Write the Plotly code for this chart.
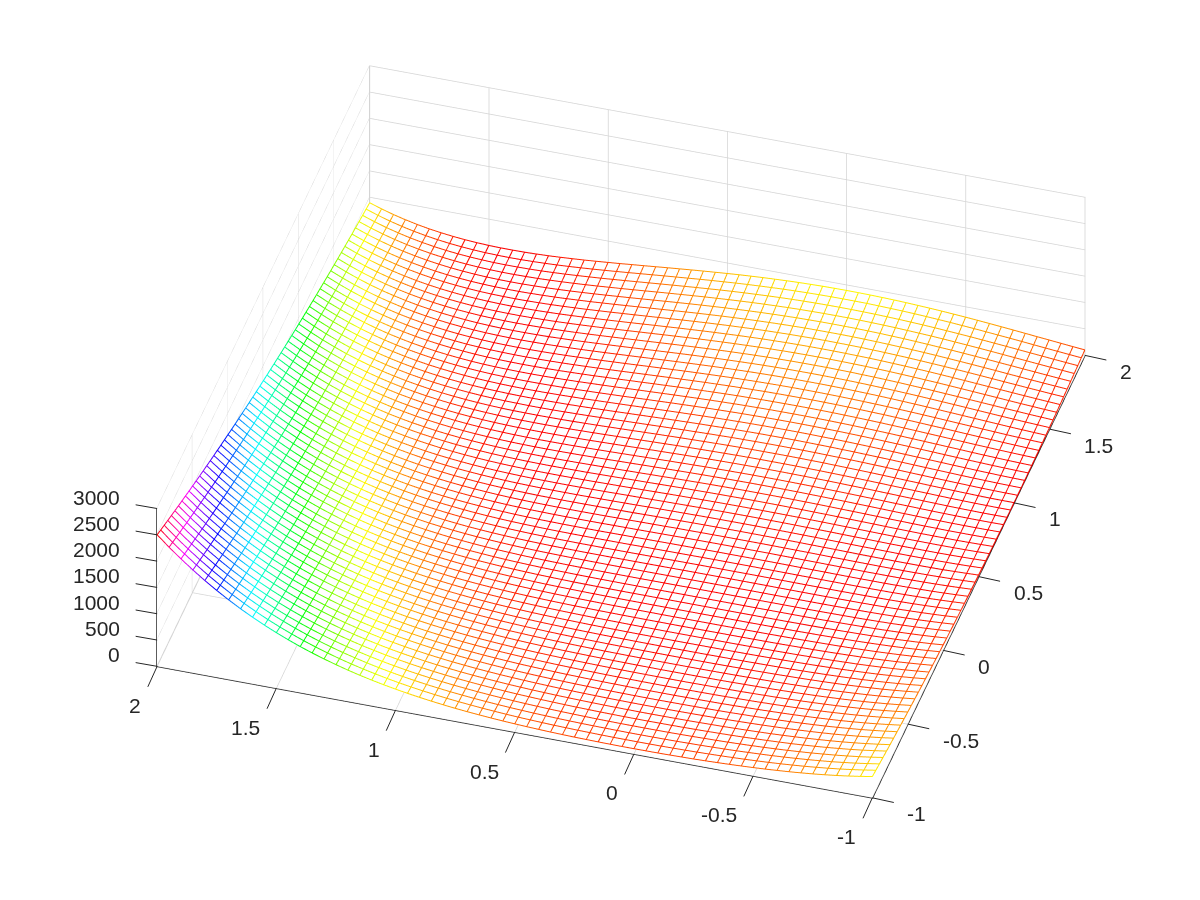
import plotly.graph_objects as go

x_values = [-1, -0.95, -0.9, -0.85, -0.8, -0.75, -0.7, -0.65, -0.6, -0.55, -0.5, -0.45, -0.4, -0.35, -0.3, -0.25, -0.2, -0.15, -0.1, -0.05,
            0, 0.05, 0.1, 0.15, 0.2, 0.25, 0.3, 0.35, 0.4, 0.45, 0.5, 0.55, 0.6, 0.65, 0.7, 0.75, 0.8, 0.85, 0.9, 0.95,
            1, 1.05, 1.1, 1.15, 1.2, 1.25, 1.3, 1.35, 1.4, 1.45, 1.5, 1.55, 1.6, 1.65, 1.7, 1.75, 1.8, 1.85, 1.9, 1.95, 2]
y_values = list(x_values)
# z_rows[i][j] is the height at x_values[i], y_values[j]
z_rows = [
[404,384,365,346,328,310,293,276,260,244,229,214,200,186,173,160,148,136,125,114,
 104,94,85,76,68,60,53,46,40,34,29,24,20,16,13,10,8,6,5,4,
 4,4,5,6,8,10,13,16,20,24,29,34,40,46,53,60,68,76,85,94,104],
[366,347,329,311,294,277,261,245,230,215,201,187,173,161,148,137,125,115,104,95,
 85,76,68,60,53,46,40,34,29,24,20,16,13,10,8,6,5,4,4,4,
 5,6,8,10,13,16,20,24,29,34,40,46,52,60,67,76,84,94,103,114,124],
[331,313,296,279,263,247,232,217,202,189,175,162,150,138,127,116,106,96,86,78,
 69,61,54,47,41,35,30,25,20,17,13,10,8,6,5,4,4,4,4,6,
 7,9,12,15,19,23,28,33,38,45,51,58,66,74,83,92,102,112,122,134,145],
[300,283,267,251,235,220,206,192,178,165,153,141,129,118,108,98,89,80,71,63,
 56,49,42,36,31,26,21,17,14,11,8,6,5,4,3,4,4,5,7,9,
 11,14,18,22,26,31,37,43,49,56,64,72,80,89,99,109,120,131,142,154,167],
[272,256,240,225,211,196,183,170,157,145,133,122,111,101,92,82,74,66,58,51,
 44,38,32,27,23,18,15,12,9,7,5,4,3,3,4,4,6,8,10,13,
 16,20,24,29,35,40,47,54,61,69,77,86,95,105,116,126,138,150,162,175,188],
[247,232,217,203,189,175,162,150,138,127,116,106,96,86,77,69,61,54,47,41,
 35,29,24,20,16,13,10,8,6,4,3,3,3,4,5,7,9,11,14,18,
 22,27,32,38,44,50,57,65,73,82,91,101,111,121,132,144,156,169,182,196,210],
[225,210,196,182,169,157,144,133,122,111,101,91,82,73,65,58,50,44,38,32,
 27,22,18,14,11,9,6,5,4,3,3,3,4,5,7,10,12,16,20,24,
 29,34,40,46,53,61,68,77,86,95,105,115,126,137,149,162,174,188,202,216,231],
[205,191,178,165,152,140,129,118,107,97,88,79,70,62,55,48,42,36,30,25,
 21,17,13,10,8,6,4,3,3,3,3,4,6,8,10,13,17,21,26,31,
 36,42,49,56,63,71,80,89,98,108,119,130,141,153,166,179,193,207,221,236,252],
[188,174,161,149,137,126,115,105,95,85,77,68,60,53,46,40,34,29,24,19,
 16,12,9,7,5,4,3,3,3,3,5,6,8,11,14,18,22,27,32,37,
 44,50,57,65,73,82,91,101,111,121,133,144,156,169,182,196,210,225,240,255,272],
[172,159,147,135,124,113,103,93,84,75,67,59,52,45,39,33,28,23,19,15,
 12,9,7,5,4,3,2,3,3,5,6,9,11,15,18,22,27,32,38,44,
 51,58,66,74,83,92,102,112,123,134,146,158,171,184,198,212,227,242,258,274,291],
[159,146,135,123,113,102,93,83,75,66,59,51,45,38,33,27,23,18,15,11,
 9,6,5,3,3,2,3,3,5,6,9,11,15,18,23,27,33,38,45,51,
 59,66,75,83,93,102,113,123,135,146,159,171,185,198,213,227,243,258,275,291,309],
[147,135,124,113,103,93,84,75,67,59,51,45,38,33,27,23,18,15,11,9,
 6,4,3,2,2,2,3,4,6,8,11,14,18,22,27,32,38,44,51,58,
 66,74,83,92,102,112,123,134,146,158,171,184,197,212,226,242,257,274,290,308,325],
[137,125,114,104,94,85,76,68,60,52,46,39,33,28,23,19,15,12,9,6,
 5,3,2,2,2,3,4,6,8,10,14,17,21,26,31,37,43,50,57,64,
 73,81,90,100,110,121,132,144,156,168,182,195,209,224,239,255,271,288,305,322,341],
[128,117,106,96,87,78,70,62,54,47,41,35,29,24,20,16,12,9,7,5,
 3,2,2,2,2,3,5,7,10,13,16,20,25,30,35,41,48,55,62,70,
 79,88,97,107,118,129,141,153,165,178,192,206,220,235,251,267,283,300,318,336,354],
[120,110,100,90,81,72,64,56,49,43,36,31,26,21,17,13,10,7,5,4,
 2,2,2,2,3,4,6,8,11,15,18,23,28,33,39,45,52,59,67,76,
 84,94,104,114,125,136,148,160,173,187,200,215,230,245,261,277,294,311,329,348,366],
[114,104,94,85,76,68,60,52,45,39,33,28,23,19,15,11,8,6,4,3,
 2,2,2,2,3,5,7,10,13,17,21,25,30,36,42,49,56,64,72,80,
 89,99,109,120,131,143,155,167,180,194,208,223,238,254,270,286,303,321,339,358,377],
[110,99,90,81,72,64,56,49,42,36,31,25,21,17,13,10,7,5,3,2,
 2,1,2,3,4,6,8,11,14,18,23,27,33,39,45,52,59,67,75,84,
 94,103,114,125,136,148,160,173,186,200,215,229,245,261,277,294,311,329,347,366,386],
[106,96,86,77,69,61,54,47,40,34,29,24,19,15,12,9,6,4,3,2,
 1,1,2,3,5,7,9,12,16,20,24,29,35,41,47,54,62,70,78,87,
 97,107,117,128,140,152,165,178,191,205,220,235,250,266,283,300,317,335,354,373,392],
[103,93,84,75,67,59,52,45,38,33,27,22,18,14,11,8,6,4,2,2,
 1,1,2,3,5,7,10,13,16,21,25,30,36,42,49,56,64,72,80,90,
 99,109,120,131,143,155,168,181,194,209,223,238,254,270,287,304,322,340,358,378,397],
[102,92,83,74,66,58,50,44,37,32,26,22,17,14,10,8,5,3,2,1,
 1,1,2,3,5,7,10,13,17,21,26,31,37,43,50,57,65,73,82,91,
 101,111,122,133,145,157,170,183,196,211,225,241,256,272,289,307,324,343,361,380,400],
[101,91,82,73,65,57,50,43,37,31,26,21,17,13,10,7,5,3,2,1,
 1,1,2,3,5,7,10,13,17,21,26,31,37,43,50,57,65,73,82,91,
 101,111,122,133,145,157,170,183,197,211,226,241,257,273,290,307,325,343,362,381,401],
[101,92,82,74,65,57,50,43,37,31,26,21,17,13,10,7,5,3,2,1,
 1,1,2,3,5,7,10,13,17,21,26,31,37,43,50,57,65,73,82,91,
 100,111,121,133,144,156,169,182,196,210,225,240,256,272,289,306,324,342,361,380,400],
[103,93,84,75,66,59,51,44,38,32,27,22,18,14,10,8,5,3,2,1,
 1,1,2,3,4,7,9,12,16,20,25,30,36,42,48,56,63,71,80,89,
 99,109,120,131,142,155,167,180,194,208,223,238,254,270,286,304,321,339,358,377,397],
[105,95,86,77,68,60,53,46,39,34,28,23,19,15,11,8,6,4,2,1,
 1,1,1,2,4,6,8,11,15,19,24,29,34,40,47,54,61,69,78,87,
 96,106,117,128,139,151,164,177,190,205,219,234,250,266,282,299,317,335,353,372,392],
[109,99,89,80,71,63,55,48,42,35,30,25,20,16,12,9,6,4,3,1,
 1,1,1,2,3,5,7,10,14,17,22,27,32,38,44,51,58,66,75,83,
 93,103,113,124,135,147,159,172,186,199,214,229,244,260,276,293,310,328,347,365,385],
[113,103,93,84,75,67,59,51,44,38,32,27,22,18,14,10,7,5,3,2,
 1,1,1,1,2,4,6,9,12,16,20,24,29,35,41,48,55,63,71,79,
 88,98,108,119,130,142,154,166,179,193,207,222,237,253,269,285,302,320,338,357,376],
[119,109,98,89,80,71,63,55,48,41,35,30,24,20,16,12,9,6,4,2,
 1,1,0,1,2,3,5,7,10,13,17,22,26,32,38,44,51,58,66,74,
 83,93,102,113,124,135,147,159,172,185,199,214,228,244,260,276,293,310,328,346,365],
[126,115,105,95,86,77,68,60,53,46,39,33,28,23,18,14,11,8,5,3,
 2,1,0,1,1,2,4,6,8,11,15,19,23,28,34,40,46,53,61,69,
 77,86,96,106,117,128,139,151,164,177,190,204,219,234,249,265,282,299,316,334,353],
[135,124,113,102,93,83,74,66,58,51,44,38,32,26,22,17,13,10,7,5,
 3,2,1,0,1,1,2,4,6,9,12,16,20,24,30,35,41,48,55,63,
 71,80,89,98,109,119,130,142,154,167,180,194,208,222,238,253,269,286,303,321,339],
[145,133,122,111,101,91,82,73,65,57,50,43,37,31,26,21,17,13,10,7,
 4,3,1,1,0,1,1,3,4,6,9,12,16,20,25,30,36,42,49,56,
 64,72,81,90,100,110,121,132,144,156,169,182,196,210,225,240,256,272,289,306,324],
[157,144,133,121,111,100,91,81,73,64,57,49,43,36,31,25,21,16,13,9,
 7,4,3,1,1,0,1,1,3,4,7,9,13,16,21,25,31,36,43,49,
 57,64,73,81,91,100,111,121,133,144,157,169,183,196,211,225,241,256,273,289,307],
[170,157,145,133,122,111,101,91,82,73,65,57,50,43,37,31,26,21,16,13,
 9,7,4,3,1,1,0,0,1,2,4,6,9,12,16,20,25,30,36,42,
 49,56,64,72,81,90,100,110,121,132,144,156,169,182,196,210,225,240,255,272,288],
[185,172,159,147,135,123,113,102,92,83,74,66,58,51,44,37,32,26,21,17,
 13,10,7,5,3,1,1,0,0,1,2,4,6,9,12,15,20,24,29,35,
 41,48,55,63,71,79,89,98,108,119,130,142,154,167,180,193,208,222,237,253,269],
[203,189,175,162,150,138,126,115,105,95,85,76,68,60,52,45,39,33,27,22,
 18,14,11,8,5,3,2,1,0,0,1,2,3,5,8,11,14,18,23,28,
 34,40,46,53,61,69,77,86,96,106,116,127,139,151,163,176,190,204,218,233,249],
[222,208,193,180,167,154,142,130,119,108,98,88,79,71,62,55,48,41,35,29,
 24,19,15,12,8,6,4,2,1,0,0,0,1,3,4,7,10,13,17,21,
 26,31,37,44,50,58,66,74,83,92,102,112,123,135,146,159,172,185,199,213,228],
[244,229,214,200,186,172,159,147,135,124,113,103,93,83,74,66,58,51,44,38,
 32,26,21,17,13,10,7,5,3,1,0,0,0,1,2,4,6,8,11,15,
 19,24,29,35,41,47,54,62,70,79,88,98,108,118,129,141,153,166,179,193,207],
[269,253,237,222,207,193,180,166,154,142,130,119,108,98,88,79,71,62,55,48,
 41,35,29,24,19,15,12,8,6,4,2,1,0,0,0,1,3,4,7,10,
 13,17,21,26,31,37,44,50,58,66,74,83,92,102,112,123,135,146,159,172,185],
[297,280,263,247,232,217,202,188,175,162,150,138,126,115,105,95,85,76,68,60,
 52,45,39,33,27,22,18,14,10,7,5,3,2,1,0,0,1,2,3,5,
 8,11,14,18,23,28,33,39,46,53,61,69,77,86,96,106,116,127,139,151,163],
[328,310,292,276,259,243,228,213,199,185,172,159,146,135,123,112,102,92,83,74,
 66,58,50,44,37,31,26,21,17,13,10,7,4,3,1,0,0,0,1,2,
 4,6,8,12,15,19,24,29,35,41,48,55,62,71,79,88,98,108,119,130,142],
[362,343,325,307,290,273,257,241,226,211,197,183,170,157,145,133,122,111,101,91,
 81,73,64,57,49,43,36,31,25,20,16,12,9,6,4,2,1,0,0,0,
 1,2,4,6,9,12,16,20,25,30,36,42,49,56,64,72,81,90,100,110,120],
[400,380,361,342,324,306,289,272,256,240,225,210,196,182,169,156,144,132,121,110,
 100,90,81,72,64,56,49,42,36,30,25,20,16,12,9,6,4,2,1,0,
 0,0,1,2,4,6,9,12,16,20,25,30,36,42,49,56,64,72,81,90,100],
[442,421,401,381,362,343,325,307,290,273,257,241,226,211,197,183,170,157,145,133,
 122,111,101,91,81,73,64,57,49,43,36,31,25,20,16,12,9,6,4,2,
 1,0,0,0,1,2,4,6,9,12,16,20,25,30,36,42,49,56,64,72,81],
[488,467,445,424,404,384,365,346,328,310,292,276,259,243,228,213,199,185,172,159,
 146,135,123,112,102,92,83,74,66,58,50,44,37,31,26,21,17,13,10,7,
 4,3,1,0,0,0,1,2,4,6,8,12,15,19,24,29,35,41,48,55,62],
[539,516,494,472,451,430,409,389,370,351,332,314,297,280,263,247,232,217,202,188,
 175,162,150,138,126,115,105,95,85,76,68,60,52,45,39,33,27,22,18,14,
 10,7,5,3,2,1,0,0,1,2,3,5,8,11,14,18,23,28,33,39,46],
[595,571,548,524,502,480,458,437,416,396,376,357,339,320,303,286,269,253,237,222,
 207,193,180,166,154,142,130,119,108,98,88,79,71,62,55,48,41,35,29,24,
 19,15,12,8,6,4,2,1,0,0,0,1,3,4,7,10,13,17,21,26,31],
[657,631,606,582,558,535,512,490,468,446,425,405,385,366,347,329,311,293,276,260,
 244,229,214,200,186,172,159,147,135,124,113,103,93,83,74,66,58,51,44,38,
 32,26,21,17,13,10,7,5,3,1,0,0,0,1,2,4,6,8,11,15,19],
[724,697,671,645,620,596,571,548,525,502,480,458,437,416,396,377,357,339,320,303,
 286,269,253,237,222,207,193,180,166,154,142,130,119,108,98,88,79,71,62,55,
 48,41,35,29,24,19,15,12,8,6,4,2,1,0,0,0,1,3,4,7,10],
[797,769,741,714,688,662,636,611,587,563,540,517,494,472,451,430,409,389,370,351,
 332,314,297,280,263,247,232,217,203,189,175,162,150,138,126,115,105,95,85,76,
 68,60,52,45,39,33,27,22,18,14,11,8,5,3,2,1,0,0,1,2,3],
[876,847,818,790,762,735,708,681,656,630,605,581,557,534,511,489,467,445,425,404,
 384,365,346,328,310,293,276,259,244,228,213,199,185,172,159,147,135,123,113,102,
 92,83,74,66,58,51,44,37,32,26,21,17,13,10,7,5,3,1,1,0,0],
[963,932,902,872,843,814,786,758,731,704,678,652,627,602,577,554,530,508,485,463,
 442,422,401,381,362,343,325,307,290,273,257,241,226,211,197,183,170,157,145,133,
 122,111,101,91,82,73,65,57,50,43,37,31,25,21,16,13,9,7,4,3,1],
[1057,1024,993,961,931,900,871,841,813,784,757,729,703,676,651,625,601,576,553,529,
 507,484,463,441,421,400,381,361,343,324,307,289,273,256,241,225,211,196,183,169,
 157,144,133,121,111,100,91,81,73,64,57,49,43,36,31,25,21,16,13,9,7],
[1158,1124,1091,1058,1026,994,963,932,902,872,843,814,786,758,731,704,678,652,627,602,
 578,554,531,508,485,464,442,422,401,382,362,344,325,307,290,273,257,241,226,211,
 197,183,170,157,145,133,122,111,101,91,82,73,65,57,50,43,37,31,26,21,17],
[1268,1232,1198,1163,1129,1096,1063,1031,999,968,937,906,877,847,818,790,762,735,708,682,
 656,630,606,581,557,534,511,489,467,446,425,404,385,365,346,328,310,293,276,260,
 244,228,214,199,185,172,159,147,135,124,113,102,93,83,74,66,58,51,44,38,32],
[1386,1349,1313,1277,1241,1206,1172,1138,1104,1071,1039,1007,975,944,914,884,855,826,797,769,
 742,715,688,662,637,612,587,563,540,517,494,472,451,430,409,390,370,351,333,315,
 297,280,264,248,232,217,203,189,175,162,150,138,126,115,105,95,86,77,68,60,53],
[1514,1475,1437,1399,1362,1325,1289,1254,1218,1184,1150,1116,1083,1050,1018,986,955,925,894,865,
 836,807,779,751,724,697,671,646,620,596,572,548,525,502,480,458,437,417,396,377,
 358,339,321,303,286,269,253,238,222,208,194,180,167,154,142,130,119,109,98,89,80],
[1651,1611,1571,1531,1492,1454,1416,1379,1342,1306,1270,1234,1199,1165,1131,1098,1065,1033,1001,969,
 938,908,878,849,820,792,764,736,709,683,657,632,607,583,559,535,512,490,468,447,
 426,406,386,366,347,329,311,294,277,261,245,229,214,200,186,173,160,148,136,124,113],
[1798,1756,1715,1673,1633,1593,1553,1514,1475,1437,1399,1362,1326,1289,1254,1219,1184,1150,1116,1083,
 1050,1018,987,955,925,895,865,836,807,779,751,724,698,671,646,621,596,572,548,525,
 502,480,459,437,417,397,377,358,339,321,303,286,270,253,238,223,208,194,180,167,154],
[1957,1913,1869,1826,1784,1742,1700,1659,1619,1579,1539,1500,1462,1424,1386,1349,1313,1277,1242,1207,
 1172,1138,1105,1072,1039,1007,976,945,914,884,855,826,797,769,742,715,689,663,637,612,
 588,564,540,517,495,473,451,430,410,390,370,351,333,315,297,280,264,248,233,218,203],
[2126,2080,2035,1990,1946,1902,1858,1816,1773,1731,1690,1649,1609,1569,1530,1491,1452,1415,1377,1340,
 1304,1268,1233,1198,1164,1130,1096,1064,1031,999,968,937,907,877,848,819,790,763,735,708,
 682,656,631,606,582,558,534,512,489,467,446,425,405,385,366,347,328,311,293,276,260],
[2307,2259,2212,2165,2119,2073,2028,1983,1939,1895,1852,1809,1767,1725,1684,1643,1603,1563,1524,1485,
 1447,1409,1372,1335,1299,1263,1228,1193,1159,1125,1092,1059,1027,995,964,933,902,873,843,815,
 786,758,731,705,678,652,627,602,578,554,531,508,486,464,443,422,402,382,363,344,326],
[2501,2451,2402,2353,2305,2257,2210,2163,2117,2071,2026,1981,1937,1893,1850,1807,1765,1723,1682,1641,
 1601,1561,1522,1483,1445,1407,1370,1333,1297,1261,1226,1191,1157,1123,1090,1057,1025,993,962,931,
 901,871,842,813,785,757,730,703,677,651,626,601,577,553,530,507,485,463,442,421,401],
]
x_ticks = [-1, -0.5, 0, 0.5, 1, 1.5, 2]
y_ticks = [-1, -0.5, 0, 0.5, 1, 1.5, 2]
z_ticks = [0, 500, 1000, 1500, 2000, 2500, 3000]
hsv_scale = [[0, "#ff0000"], [1/6, "#ffff00"], [2/6, "#00ff00"], [3/6, "#00ffff"],
             [4/6, "#0000ff"], [5/6, "#ff00ff"], [1, "#ff0000"]]

lx, ly, lz, lc = [], [], [], []
for i, xv in enumerate(x_values):
    for j, yv in enumerate(y_values):
        lx.append(xv); ly.append(yv); lz.append(z_rows[i][j]); lc.append(z_rows[i][j])
    lx.append(None); ly.append(None); lz.append(None); lc.append(0)
for j, yv in enumerate(y_values):
    for i, xv in enumerate(x_values):
        lx.append(xv); ly.append(yv); lz.append(z_rows[i][j]); lc.append(z_rows[i][j])
    lx.append(None); ly.append(None); lz.append(None); lc.append(0)

surface_drop = 12
fig = go.Figure()
fig.add_surface(x=x_values, y=y_values, z=[[v - surface_drop for v in c] for c in zip(*z_rows)],
                colorscale=[[0, "white"], [1, "white"]], showscale=False, hoverinfo="skip",
                lighting=dict(ambient=1, diffuse=0, specular=0, roughness=1, fresnel=0))
fig.add_scatter3d(x=lx, y=ly, z=lz, mode="lines", connectgaps=False, hoverinfo="skip",
                  line=dict(color=lc, colorscale=hsv_scale, cmin=0, cmax=2501, width=2))

INK = "#262626"
font = dict(family="Liberation Sans", size=21, color=INK)
def fmt(v):
    return f"{v:g}"
notes = []
def add_tick(px, py, pz, label, ax, ay, xanchor, xshift, yshift):
    notes.append(dict(x=px, y=py, z=pz, text="", showarrow=True, arrowhead=0, arrowwidth=1,
                      arrowcolor=INK, ax=ax, ay=ay))
    notes.append(dict(x=px, y=py, z=pz, text=label, showarrow=False, font=font,
                      xanchor=xanchor, yanchor="middle", xshift=xshift, yshift=yshift))
for v in x_ticks:
    add_tick(v, -1, 0, fmt(v), -10, 22, "right", -14, -39)
for v in y_ticks:
    add_tick(-1, v, 0, fmt(v), 23, 5, "left", 33, -16)
for v in z_ticks:
    add_tick(2, -1, v, fmt(v), -23, -4, "right", -35, 11.5)

axis = dict(showbackground=False, showgrid=True, gridcolor="#d4d4d4", gridwidth=1.5,
            showline=True, linecolor=INK, linewidth=1.5, zeroline=False,
            ticks="", showticklabels=False, title=dict(text=""), showspikes=False)
d = (0.2238, -0.7531, 0.6187)
k = 1.18
fig.update_layout(
    width=1200, height=900, margin=dict(l=0, r=0, t=0, b=0), showlegend=False,
    paper_bgcolor="white",
    scene=dict(
        domain=dict(x=[26/1200, 1], y=[52/900, 1]),
        aspectmode="manual", aspectratio=dict(x=1.762, y=1.762, z=0.474),
        camera=dict(eye=dict(x=d[0]*k, y=d[1]*k, z=d[2]*k), up=dict(x=0, y=0, z=1),
                    center=dict(x=0, y=0, z=0), projection=dict(type="orthographic")),
        xaxis=dict(axis, range=[2.002, -1.002], tickvals=x_ticks),
        yaxis=dict(axis, range=[-1.002, 2.002], tickvals=y_ticks),
        zaxis=dict(axis, range=[-2, 3000], tickvals=z_ticks),
        annotations=notes,
    ),
)
fig.write_html("out.html")
